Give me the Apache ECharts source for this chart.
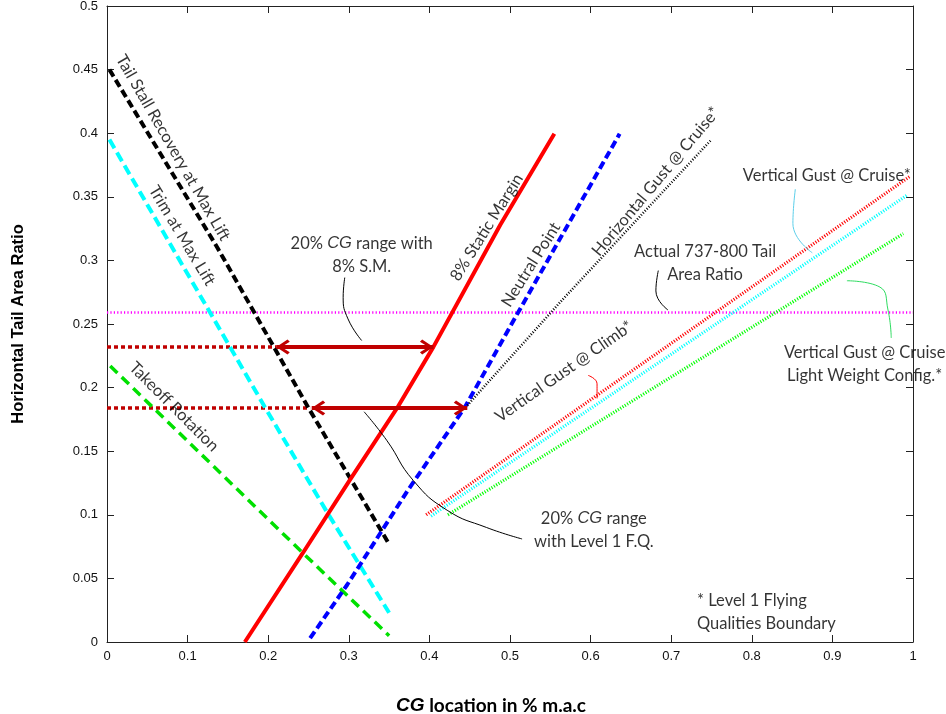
<!DOCTYPE html>
<html><head><meta charset="utf-8">
<script src="https://cdn.jsdelivr.net/npm/echarts@6/dist/echarts.min.js"></script>
<style>html,body{margin:0;padding:0;background:#fff}#c{width:946px;height:714px}</style>
</head><body><div id="c"></div>
<script>
// ---- axis ranges ----
const xRange = [0, 1, 0.1];
const yRange = [0, 0.5, 0.05];

// ---- boundary curves [CG location, tail area ratio] ----
const tailStallRecovery = [[0.003,0.45],[0.137,0.31],[0.25,0.184],[0.35,0.077]];
const trimMaxLift       = [[0.003,0.395],[0.153,0.2316],[0.196,0.1845],[0.274,0.101],[0.35,0.023]];
const takeoffRotation   = [[0.004,0.217],[0.243,0.070],[0.35,0.005]];
const staticMargin8     = [[0.171,0],[0.243,0.07],[0.301,0.127],[0.36,0.184],[0.405,0.232],[0.488,0.328],[0.555,0.3995]];
const neutralPoint      = [[0.252,0.003],[0.298,0.045],[0.373,0.119],[0.444,0.1845],[0.510,0.259],[0.636,0.3995]];
const horizGustCruise   = [[0.447,0.186],[0.562,0.267],[0.75,0.395]];
const vertGustClimb     = [[0.396,0.100],[0.996,0.366]];
const vertGustCruise    = [[0.402,0.099],[0.992,0.351]];
const vertGustCruiseLW  = [[0.423,0.100],[0.988,0.321]];
const actualTailRatio   = [[0,0.259],[1,0.259]];
const cgGuide8SM        = [[0,0.232],[0.21,0.232]];
const cgGuideLevel1     = [[0,0.184],[0.252,0.184]];
const cgRange8SM        = [[0.21,0.232],[0.405,0.232]];
const cgRangeLevel1     = [[0.254,0.184],[0.447,0.184]];

// ---- annotation leader curves ----
const leaderSM8     = [[0.295,0.2865],[0.293,0.271],[0.299,0.254],[0.316,0.237]];
const leaderLevel1  = [[0.319,0.181],[0.347,0.1586],[0.380,0.127],[0.422,0.1036],[0.471,0.090],[0.515,0.081]];
const leaderActual  = [[0.684,0.292],[0.681,0.276],[0.696,0.261]];
const leaderCruise  = [[0.854,0.356],[0.851,0.329],[0.875,0.306]];
const leaderClimb   = [[0.597,0.2096],[0.608,0.203],[0.608,0.1915]];
const leaderLight   = [[0.918,0.284],[0.959,0.279],[0.969,0.261],[0.973,0.239]];

// ---- text annotations ----
const annotations = [
  {text:'Tail Stall Recovery at Max Lift', at:[0.082,0.3885], rotate:-60},
  {text:'Trim at Max Lift', at:[0.093,0.3195], rotate:-59},
  {text:'Takeoff Rotation', at:[0.083,0.185], rotate:-45},
  {text:'8% Static Margin', at:[0.471,0.326], rotate:58},
  {text:'Neutral Point', at:[0.526,0.2967], rotate:58},
  {text:'Horizontal Gust @ Cruise*', at:[0.681,0.362], rotate:50},
  {text:'Vertical Gust @ Climb*', at:[0.567,0.2127], rotate:35},
  {text:'Actual 737-800 Tail\nArea Ratio', at:[0.742,0.2975], rotate:0},
  {text:'Vertical Gust @ Cruise*', at:[0.893,0.367], rotate:0},
  {text:'Vertical Gust @ Cruise\nLight Weight Config.*', at:[0.940,0.2182], rotate:0},
  {text:'20% {i|CG} range with\n8% S.M.', at:[0.316,0.3045], rotate:0},
  {text:'20% {i|CG} range\nwith Level 1 F.Q.', at:[0.604,0.088], rotate:0},
  {text:'* Level 1 Flying\nQualities Boundary', at:[0.732,0.0235], rotate:0, align:'left'}
];

const annFont = 'Lato, "Open Sans", sans-serif';
const italicFont = '"Liberation Sans", Arial, sans-serif';
const darkRed = '#C00000';

function ln(name, data, color, width, type, extra) {
  return Object.assign({
    type:'line', name, data, symbol:'none', showSymbol:false, silent:true,
    animation:false, lineStyle:{color, width, type, cap:'butt'}, z:3
  }, extra||{});
}
function leader(data, color) {
  return ln('leader', data, color, 1, 'solid', {smooth:0.5, z:4});
}
const chevron = 'path://M10,-12 L10.05,-12 L10,-11.95 Z M10,0 L20,10 L17,12 L10,4.5 L3,12 L0,10 Z';
function arrow(data) {
  return {
    type:'line', data:[], silent:true, animation:false,
    markLine:{
      silent:true, animation:false,
      symbol:[chevron, chevron], symbolSize:[15,27],
      label:{show:false},
      lineStyle:{color:darkRed, width:4, type:'solid', cap:'butt'},
      emphasis:{disabled:true},
      data:[[{coord:data[0]},{coord:data[1]}]]
    }
  };
}

const series = [
  ln('Actual 737-800 Tail Area Ratio', actualTailRatio, '#FF00FF', 2.5, [1.2,2.2]),
  ln('cg guide 8SM', cgGuide8SM, darkRed, 3.5, [4,3]),
  ln('cg guide L1', cgGuideLevel1, darkRed, 3.5, [4,3]),
  ln('Takeoff Rotation', takeoffRotation, '#00E000', 3.5, [10,6]),
  ln('Trim at Max Lift', trimMaxLift, '#00FFFF', 4, [10,5]),
  ln('Tail Stall Recovery', tailStallRecovery, '#000000', 4, [8,4]),
  ln('8% Static Margin', staticMargin8, '#FF0000', 4, 'solid'),
  ln('Neutral Point', neutralPoint, '#0000FF', 4, [8,4]),
  ln('Horizontal Gust @ Cruise', horizGustCruise, '#000000', 2.5, [1,1.8]),
  ln('Vertical Gust @ Climb', vertGustClimb, '#FF0000', 3.2, [1.1,1.6]),
  ln('Vertical Gust @ Cruise', vertGustCruise, '#00FFFF', 3.2, [1.1,1.6]),
  ln('Vertical Gust @ Cruise LW', vertGustCruiseLW, '#00FF00', 3.2, [1.1,1.6]),
  arrow(cgRange8SM),
  arrow(cgRangeLevel1),
  leader(leaderSM8, '#000000'),
  leader(leaderLevel1, '#000000'),
  leader(leaderActual, '#000000'),
  leader(leaderCruise, '#5CCFEA'),
  leader(leaderClimb, '#FF0000'),
  leader(leaderLight, '#2EDC60')
];

const italicRich = {fontStyle:'italic', fontFamily:italicFont, fontSize:16.5, color:'#000', lineHeight:23};
annotations.forEach(a => {
  series.push({
    type:'scatter', data:[a.at], symbolSize:0, silent:true, animation:false, z:6,
    label:{
      show:true, position:'inside', formatter:a.text, rotate:a.rotate,
      align:a.align||'center', verticalAlign:'middle',
      color:'#000', fontFamily:annFont, fontSize:16.5, lineHeight:23, fontStyle:'normal',
      rich:{ i: italicRich }
    }
  });
});

const axisCommon = {
  type:'value', splitLine:{show:false},
  axisLine:{show:true, onZero:false, lineStyle:{color:'#222', width:1}},
  axisTick:{show:true, inside:true, length:7, lineStyle:{color:'#222'}}
};

const option = {
  animation:false,
  backgroundColor:'#fff',
  grid:{left:107, right:33, top:6, bottom:72, containLabel:false, outerBoundsMode:'none'},
  xAxis:[
    Object.assign({}, axisCommon, {
      min:xRange[0], max:xRange[1], interval:xRange[2], position:'bottom',
      axisLabel:{color:'#111', fontFamily:'"Liberation Sans", Arial, sans-serif', fontSize:13, margin:8},
      name:'{i|CG} location in % m.a.c', nameLocation:'middle', nameGap:54,
      nameTextStyle:{fontFamily:annFont, fontWeight:'bold', fontSize:19, color:'#000', padding:[0,38,0,0],
        rich:{i:{fontStyle:'italic', fontWeight:'bold', fontFamily:italicFont, fontSize:19, color:'#000'}}}
    }),
    Object.assign({}, axisCommon, {
      min:xRange[0], max:xRange[1], interval:xRange[2], position:'top', axisLabel:{show:false}
    })
  ],
  yAxis:[
    Object.assign({}, axisCommon, {
      min:yRange[0], max:yRange[1], interval:yRange[2], position:'left',
      axisLabel:{color:'#111', fontFamily:'"Liberation Sans", Arial, sans-serif', fontSize:13, margin:9},
      name:'Horizontal Tail Area Ratio', nameLocation:'middle', nameGap:80, nameRotate:90,
      nameTextStyle:{fontFamily:'"Liberation Sans", Arial, sans-serif', fontWeight:'bold', fontSize:16.5, color:'#000'}
    }),
    Object.assign({}, axisCommon, {
      min:yRange[0], max:yRange[1], interval:yRange[2], position:'right', axisLabel:{show:false}
    })
  ],
  series
};

const chart = echarts.init(document.getElementById('c'), null, {renderer:'canvas'});
chart.setOption(option);
</script></body></html>
